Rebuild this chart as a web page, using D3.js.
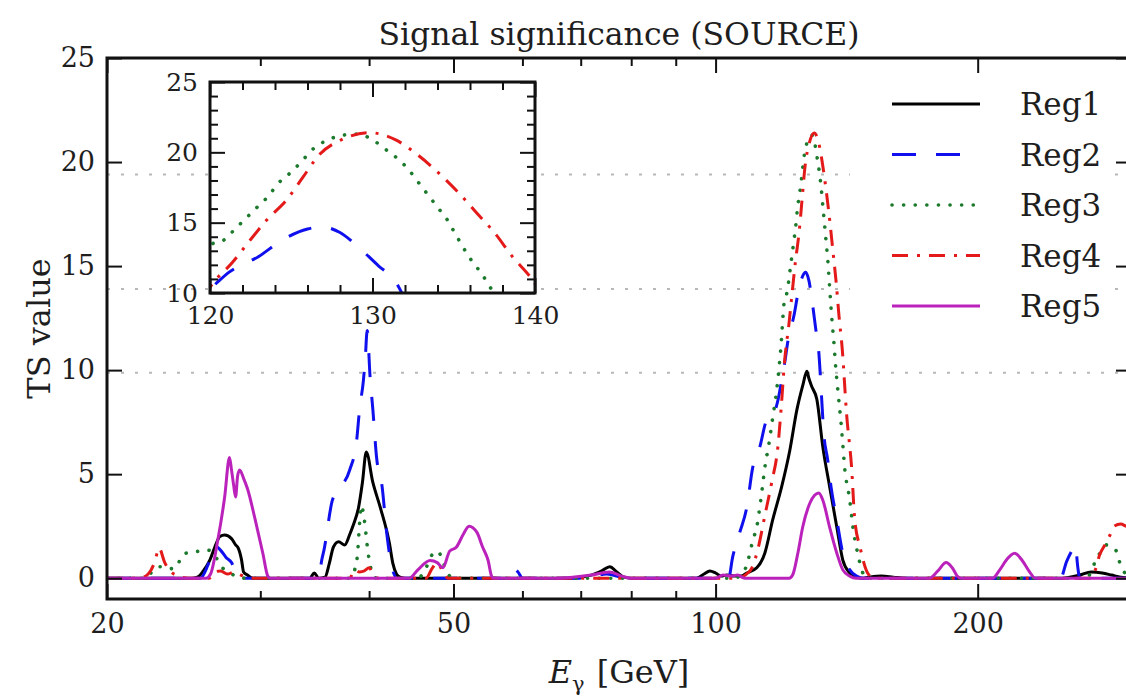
<!DOCTYPE html>
<html>
<head>
<meta charset="utf-8">
<script src="https://cdn.jsdelivr.net/npm/d3@7"></script>
<style>
  body { margin: 0; background: #fff; }
</style>
</head>
<body>
<svg id="chart" width="1126" height="696"></svg>
<script>
// ---- TS value versus photon energy for five sky regions ----
const reg1E  = [20, 25.0, 25.4, 25.8, 26.25, 26.6, 26.96, 27.3, 27.8, 28.1, 28.3, 28.55, 28.7, 29.0, 29.4,
                34.2, 34.6, 35.0, 35.6, 36.0, 36.4, 36.9, 37.5, 38.0, 38.4, 38.9, 39.3, 39.7, 40.4, 41.2, 42.2, 42.6, 43.0, 43.4, 44.0,
                68, 72, 74, 75.6, 77, 78.5, 80, 95, 97, 98.5, 100, 101.5, 103, 105, 107,
                108.6, 111.5, 113.9, 116.3, 119.1, 121.7, 124.0, 126.0, 127.3, 128.0, 129.0, 130.7, 132.8, 135.2, 137.8, 140.0, 142.6, 145.2, 147,
                150, 155, 160, 165, 250, 262, 270, 278, 285, 292, 300];
const reg1TS = [0, 0, 0.05, 0.35, 0.87, 1.5, 2.0, 2.07, 1.9, 1.6, 1.45, 0.87, 0.3, 0.15, 0,
                0, 0.25, 0, 0.05, 0.7, 1.5, 1.75, 1.6, 2.1, 2.6, 3.4, 4.6, 6.06, 4.6, 3.4, 1.7, 0.7, 0.2, 0.05, 0,
                0, 0.15, 0.35, 0.55, 0.3, 0.05, 0, 0, 0.2, 0.35, 0.25, 0.1, 0.15, 0.1, 0.1,
                0.25, 0.5, 1.2, 2.8, 4.4, 6.15, 8.1, 9.3, 9.95, 9.6, 9.2, 8.6, 6.3, 4.4, 2.45, 0.87, 0.25, 0.05, 0,
                0.05, 0.1, 0.05, 0, 0, 0.15, 0.3, 0.25, 0.15, 0.05, 0];

const reg2E  = [20, 25.6, 26.1, 26.6, 27.0, 27.4, 27.8, 28.1, 28.4,
                35.0, 35.3, 35.5, 36.3, 36.8, 38.0, 38.7, 39.0, 39.4, 39.6, 39.8, 40.1, 40.4, 40.8, 41.4, 41.9, 42.5, 43.1,
                57.0, 58.0, 58.6, 59.3, 60.0, 70, 75, 79,
                103.5, 104.6, 106.6, 108.6, 110.3, 112.4, 114.5, 116.3, 118.0, 119.2, 120.0, 121.2, 123.0, 124.5, 126.0, 126.9,
                128.0, 129.1, 130.4, 131.3, 132.4, 133.1, 134.5, 135.7, 137.8, 140.0, 142.6, 145.2, 148,
                249, 253, 256, 259, 260.5, 262, 300];
const reg2TS = [0, 0, 0.6, 1.55, 1.35, 1.0, 0.75, 0.3, 0,
                0, 0.9, 1.35, 3.75, 4.2, 5.2, 6.6, 8.1, 9.5, 10.6, 11.9, 9.7, 8.1, 5.8, 4.4, 2.2, 0.5, 0,
                0, 0.35, 0.45, 0.3, 0, 0, 0.2, 0,
                0, 1.0, 2.2, 3.4, 5.3, 6.3, 7.6, 7.8, 8.6, 9.6, 10.3, 11.5, 12.6, 13.8, 14.55, 14.7,
                14.3, 13.3, 11.9, 11.0, 8.6, 7.0, 5.7, 4.4, 2.8, 1.2, 0.4, 0.1, 0,
                0, 0.8, 1.25, 1.6, 0.6, 0, 0];

const reg3E  = [20, 22.2, 22.6, 23.0, 23.5, 24.0, 24.4, 24.9, 25.6, 26.1, 26.6, 27.0, 27.6, 28.1, 28.8,
                37.9, 38.5, 38.8, 39.0, 39.2, 39.5, 39.9, 40.3, 40.8,
                45.5, 46.5, 47.2, 48.0, 48.6, 49.3, 50,
                105, 108, 109.5, 110.3, 111.5, 112.4, 113.2, 113.9, 115.0, 116.2, 117.5, 118.8, 120.0, 120.9, 121.5, 122.2,
                122.9, 123.6, 124.2, 124.9, 125.6, 126.3, 127.1, 128.1, 129.0, 130.0, 130.7, 131.5, 132.2, 132.8, 133.4,
                134.0, 134.6, 135.1, 135.6, 136.1, 136.7, 137.3, 138.2, 139.6, 140.7, 142.6, 143.8, 145.6, 147.2, 148.7,
                266, 270, 274, 278, 281, 285, 288, 292, 296, 300];
const reg3TS = [0, 0, 0.4, 0.55, 0.45, 0.5, 1.1, 1.25, 1.3, 1.35, 1.1, 0.6, 0.3, 0.1, 0,
                0, 0.4, 1.2, 2.6, 3.5, 2.8, 1.2, 0.3, 0,
                0, 0.5, 1.1, 1.3, 0.8, 0.2, 0,
                0, 0.4, 1.2, 1.8, 2.45, 3.4, 4.4, 5.3, 6.3, 7.6, 9.0, 11.0, 13.4, 13.8, 14.5, 15.3,
                16.1, 16.9, 17.8, 18.5, 19.3, 20.2, 20.8, 21.2, 21.3, 20.9, 20.3, 19.6, 18.8, 17.9, 17.0,
                16.1, 15.2, 14.2, 13.2, 12.3, 11.4, 10.3, 9.0, 7.1, 5.3, 3.75, 2.45, 1.2, 0.4, 0,
                0, 0.3, 1.0, 1.3, 1.6, 1.4, 1.35, 0.6, 0.2, 0.1];

const reg4E  = [20, 21.8, 22.3, 22.7, 22.95, 23.3, 23.7, 24.2, 24.8, 26.2, 26.6, 27.0, 27.5, 28.0, 28.5, 29.0, 29.6,
                38.0, 38.5, 39.0, 39.5, 40.0, 40.4, 41,
                46.5, 47.3, 47.9, 48.5, 49.3,
                106, 108.5, 110.1, 112, 113.9, 116, 117.9, 119.0, 120.0, 121.4, 122.5, 123.5, 124.7, 125.7, 126.7,
                128.1, 129.8, 131.4, 132.8, 134.1, 135.4, 136.4, 137.5, 138.6, 139.8, 141.4, 143.3, 144.5, 146.5, 149.5, 152,
                270, 273, 276, 280, 284, 287, 292, 296, 300];
const reg4TS = [0, 0, 0.2, 0.8, 1.45, 0.75, 0.3, 0.1, 0, 0, 0.3, 0.35, 0.2, 0.3, 0.15, 0.05, 0,
                0, 0.4, 0.3, 0.35, 0.5, 0.2, 0,
                0, 0.5, 0.75, 0.4, 0,
                0, 0.2, 0.5, 1.5, 3.0, 4.6, 6.3, 8.3, 10.4, 12.2, 13.8, 15.2, 16.6, 18.2, 19.8,
                20.9, 21.4, 20.9, 19.8, 18.5, 17.0, 15.7, 14.3, 12.6, 11.0, 7.9, 5.3, 2.8, 1.5, 0.25, 0,
                0, 0.4, 1.1, 1.6, 2.1, 2.5, 2.6, 2.5, 2.4];

const reg5E  = [20, 26.0, 26.3, 26.8, 27.3, 27.65, 27.8, 27.95, 28.1, 28.25, 28.4, 28.7, 29.0, 29.6, 30.2, 30.6, 30.8,
                44.5, 45.5, 47.0, 47.9, 48.6, 49.5, 50.4, 51.3, 52.1, 53.2, 54.0, 54.8, 55.3, 55.6,
                66, 72, 75.5, 78, 80, 100, 102, 104, 106, 108,
                121.5, 122.6, 124.3, 125.9, 128.3, 130.0, 131.4, 132.8, 135.2, 137.8, 140.0, 142.6, 145,
                176, 180, 184, 187, 190, 192, 208, 212, 216, 220.6, 225, 229, 233, 300];
const reg5TS = [0, 0, 0.2, 1.8, 3.9, 5.8, 5.2, 4.5, 3.9, 4.9, 5.2, 4.8, 4.3, 2.8, 1.2, 0.1, 0,
                0, 0.4, 0.85, 0.75, 0.5, 1.3, 1.5, 2.1, 2.5, 2.2, 1.5, 0.85, 0.1, 0,
                0, 0.15, 0.3, 0.1, 0, 0, 0.15, 0.1, 0.15, 0,
                0, 0.15, 1.2, 2.45, 3.6, 4.0, 4.1, 3.75, 2.45, 1.2, 0.4, 0.1, 0,
                0, 0.35, 0.75, 0.5, 0.05, 0, 0, 0.4, 0.9, 1.2, 0.85, 0.35, 0, 0];

const regNames = ["Reg1", "Reg2", "Reg3", "Reg4", "Reg5"];
const regEnergies = [reg1E, reg2E, reg3E, reg4E, reg5E];
const regValues = [reg1TS, reg2TS, reg3TS, reg4TS, reg5TS];

// reference TS levels shown as dotted guide lines
const guideLevels = [9.87, 13.9, 19.4];

// tick values and labels
const xMajorTicks = [20, 50, 100, 200];
const xMinorTicks = [30, 40, 60, 70, 80, 90, 300];
const yMajorTicks = [0, 5, 10, 15, 20, 25];
const insetXMajor = [120, 130, 140];
const insetXMinor = [122, 124, 126, 128, 132, 134, 136, 138];
const insetYMajor = [10, 15, 20, 25];
const insetYMinor = [11, 12, 13, 14, 16, 17, 18, 19, 21, 22, 23, 24];

// ---- drawing styles ----
const regStyles = [
  { color: "#000000", dash: null,          cap: "butt",  width: 3 },
  { color: "#1010ee", dash: "24,20",       cap: "butt",  width: 3 },
  { color: "#1c7a2c", dash: "0.1,11.5",    cap: "round", width: 3.6 },
  { color: "#e41a1a", dash: "16,9,3,9",    cap: "butt",  width: 3 },
  { color: "#bb22bb", dash: null,          cap: "butt",  width: 3 }
];
const FONT = "DejaVu Serif";
const TEXT_COLOR = "#1e1e1e";

const svg = d3.select("#chart");
svg.append("rect").attr("width", 1126).attr("height", 696).attr("fill", "#fff");

const M = { left: 107, top: 58, right: 1131, bottom: 599 };
const x = d3.scaleLog().domain([20, 300]).range([M.left, M.right]);
const y = d3.scaleLinear().domain([-1, 25]).range([M.bottom, M.top]);

const I = { left: 210, top: 82, right: 535, bottom: 293 };
const xi = d3.scaleLinear().domain([120, 140]).range([I.left, I.right]);
const yi = d3.scaleLinear().domain([10, 25]).range([I.bottom, I.top]);

const defs = svg.append("defs");
defs.append("clipPath").attr("id", "clipMain").append("rect")
  .attr("x", M.left).attr("y", M.top).attr("width", M.right - M.left).attr("height", M.bottom - M.top);
defs.append("clipPath").attr("id", "clipInset").append("rect")
  .attr("x", I.left).attr("y", I.top).attr("width", I.right - I.left).attr("height", I.bottom - I.top);

const seriesData = regNames.map((name, i) => ({
  name,
  style: regStyles[i],
  points: regEnergies[i].map((e, k) => [e, regValues[i][k]])
}));

function styleLine(sel) {
  return sel.attr("fill", "none")
    .attr("stroke", d => d.style.color)
    .attr("stroke-width", d => d.style.width)
    .attr("stroke-dasharray", d => d.style.dash)
    .attr("stroke-linecap", d => d.style.cap)
    .attr("stroke-linejoin", "round");
}

// ---- main panel ----
const main = svg.append("g");
main.append("g").selectAll("line").data(guideLevels).join("line")
  .attr("x1", M.left).attr("x2", M.right)
  .attr("y1", d => y(d)).attr("y2", d => y(d))
  .attr("stroke", "#b8b8b8").attr("stroke-width", 2).attr("stroke-dasharray", "3,11");

const lineMain = d3.line().x(d => x(d[0])).y(d => y(d[1])).curve(d3.curveMonotoneX);
main.append("g").attr("clip-path", "url(#clipMain)")
  .selectAll("path").data(seriesData).join("path")
  .attr("d", d => lineMain(d.points))
  .call(styleLine);

// legend
const legend = svg.append("g");
legend.append("rect").attr("x", 850).attr("y", 72).attr("width", 262).attr("height", 262).attr("fill", "#fff");
const rows = legend.selectAll("g").data(seriesData).join("g")
  .attr("transform", (d, i) => `translate(0,${104 + i * 50.5})`);
rows.append("line").attr("x1", 892).attr("x2", 980).attr("y1", 0).attr("y2", 0).call(styleLine);
rows.append("text").attr("x", 1020).attr("y", 11).attr("font-size", 31)
  .attr("font-family", FONT).attr("fill", TEXT_COLOR).text(d => d.name);

// ---- axes (inward ticks on all four sides) ----
function tickStyle(g, w) {
  g.select(".domain").remove();
  g.attr("font-family", FONT);
  g.selectAll(".tick line").attr("stroke", "#111").attr("stroke-width", w);
  g.selectAll("text").attr("fill", TEXT_COLOR);
}
svg.append("g").attr("transform", `translate(0,${M.bottom})`)
  .call(d3.axisBottom(x).tickValues(xMajorTicks).tickFormat(d3.format("d")).tickSize(-15).tickPadding(15))
  .call(g => tickStyle(g, 2))
  .call(g => g.selectAll("text").attr("font-size", 27));
svg.append("g").attr("transform", `translate(0,${M.bottom})`)
  .call(d3.axisBottom(x).tickValues(xMinorTicks).tickFormat("").tickSize(-8))
  .call(g => tickStyle(g, 2));
svg.append("g").attr("transform", `translate(0,${M.top})`)
  .call(d3.axisTop(x).tickValues(xMajorTicks).tickFormat("").tickSize(-15))
  .call(g => tickStyle(g, 2));
svg.append("g").attr("transform", `translate(0,${M.top})`)
  .call(d3.axisTop(x).tickValues(xMinorTicks).tickFormat("").tickSize(-8))
  .call(g => tickStyle(g, 2));
svg.append("g").attr("transform", `translate(${M.left},0)`)
  .call(d3.axisLeft(y).tickValues(yMajorTicks).tickFormat(d3.format("d")).tickSize(-15).tickPadding(12))
  .call(g => tickStyle(g, 2))
  .call(g => g.selectAll("text").attr("font-size", 27));
svg.append("g").attr("transform", `translate(${M.right},0)`)
  .call(d3.axisRight(y).tickValues(yMajorTicks).tickFormat("").tickSize(-15))
  .call(g => tickStyle(g, 2));

svg.append("rect").attr("x", M.left).attr("y", M.top)
  .attr("width", M.right - M.left).attr("height", M.bottom - M.top)
  .attr("fill", "none").attr("stroke", "#111").attr("stroke-width", 3);

// ---- inset: zoom on the 130 GeV line ----
const inset = svg.append("g");
inset.append("rect").attr("x", I.left).attr("y", I.top)
  .attr("width", I.right - I.left).attr("height", I.bottom - I.top).attr("fill", "#fff");
const lineInset = d3.line().x(d => xi(d[0])).y(d => yi(d[1])).curve(d3.curveMonotoneX);
inset.append("g").attr("clip-path", "url(#clipInset)")
  .selectAll("path").data(seriesData).join("path")
  .attr("d", d => lineInset(d.points))
  .call(styleLine);

svg.append("g").attr("transform", `translate(0,${I.bottom})`)
  .call(d3.axisBottom(xi).tickValues(insetXMajor).tickFormat(d3.format("d")).tickSize(-15).tickPadding(13))
  .call(g => tickStyle(g, 2))
  .call(g => g.selectAll("text").attr("font-size", 25));
svg.append("g").attr("transform", `translate(0,${I.bottom})`)
  .call(d3.axisBottom(xi).tickValues(insetXMinor).tickFormat("").tickSize(-8))
  .call(g => tickStyle(g, 2));
svg.append("g").attr("transform", `translate(0,${I.top})`)
  .call(d3.axisTop(xi).tickValues(insetXMajor).tickFormat("").tickSize(-15))
  .call(g => tickStyle(g, 2));
svg.append("g").attr("transform", `translate(0,${I.top})`)
  .call(d3.axisTop(xi).tickValues(insetXMinor).tickFormat("").tickSize(-8))
  .call(g => tickStyle(g, 2));
svg.append("g").attr("transform", `translate(${I.left},0)`)
  .call(d3.axisLeft(yi).tickValues(insetYMajor).tickFormat(d3.format("d")).tickSize(-15).tickPadding(12))
  .call(g => tickStyle(g, 2))
  .call(g => g.selectAll("text").attr("font-size", 25));
svg.append("g").attr("transform", `translate(${I.left},0)`)
  .call(d3.axisLeft(yi).tickValues(insetYMinor).tickFormat("").tickSize(-8))
  .call(g => tickStyle(g, 2));
svg.append("g").attr("transform", `translate(${I.right},0)`)
  .call(d3.axisRight(yi).tickValues(insetYMajor).tickFormat("").tickSize(-15))
  .call(g => tickStyle(g, 2));
svg.append("g").attr("transform", `translate(${I.right},0)`)
  .call(d3.axisRight(yi).tickValues(insetYMinor).tickFormat("").tickSize(-8))
  .call(g => tickStyle(g, 2));
svg.append("rect").attr("x", I.left).attr("y", I.top)
  .attr("width", I.right - I.left).attr("height", I.bottom - I.top)
  .attr("fill", "none").attr("stroke", "#111").attr("stroke-width", 3);

// ---- titles ----
svg.append("text").attr("x", (M.left + M.right) / 2).attr("y", 45)
  .attr("text-anchor", "middle").attr("font-size", 31.5).attr("font-family", FONT).attr("fill", TEXT_COLOR)
  .text("Signal significance (SOURCE)");

svg.append("text").attr("transform", `translate(50,${(M.top + M.bottom) / 2}) rotate(-90)`)
  .attr("text-anchor", "middle").attr("font-size", 32).attr("font-family", FONT).attr("fill", TEXT_COLOR)
  .text("TS value");

const xl = svg.append("text").attr("x", (M.left + M.right) / 2).attr("y", 683)
  .attr("text-anchor", "middle").attr("font-size", 32).attr("font-family", FONT).attr("fill", TEXT_COLOR);
xl.append("tspan").attr("font-style", "italic").text("E");
xl.append("tspan").attr("font-size", 21).attr("dy", 8).text("γ");
xl.append("tspan").attr("dy", -8).attr("dx", 12).text("[GeV]");
</script>
</body>
</html>
